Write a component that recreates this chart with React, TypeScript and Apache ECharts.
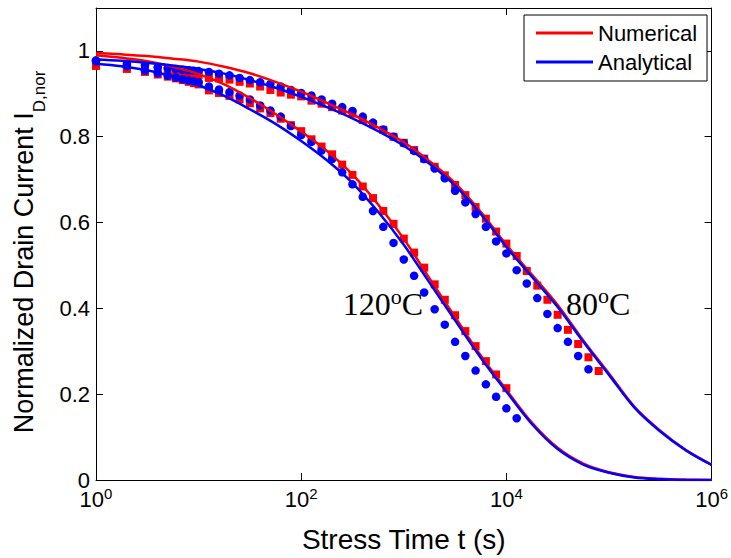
import React, { useEffect, useRef } from "react";
import * as echarts from "echarts";

// ---- sample times (s) ----
const lineTimes = [1, 1.78, 3.16, 5.62, 10, 17.8, 31.6, 56.2, 100, 178, 316, 562, 1000, 1780, 3160, 5620, 10000, 17800, 31600, 56200, 100000, 178000, 316000, 562000, 1000000];
const dataTimes = [1, 2, 3, 4, 5, 6, 7, 8, 9, 10, 12.6, 15.8, 20, 25.1, 31.6, 39.8, 50.1, 63.1, 79.4, 100, 126, 158, 200, 251, 316, 398, 501, 631, 794, 1000, 1260, 1580, 2000, 2510, 3160, 3980, 5010, 6310, 7940, 10000, 12600, 15800, 20000, 25100, 31600, 39800, 50100, 63100, 79400];

// ---- model curves ----
const numerical80 = [0.995, 0.992, 0.988, 0.982, 0.975, 0.963, 0.948, 0.928, 0.905, 0.879, 0.852, 0.821, 0.787, 0.743, 0.692, 0.625, 0.548, 0.478, 0.408, 0.325, 0.248, 0.17, 0.115, 0.07, 0.036];
const analytical80 = [0.98, 0.977, 0.972, 0.966, 0.958, 0.947, 0.932, 0.914, 0.893, 0.869, 0.843, 0.813, 0.779, 0.737, 0.686, 0.62, 0.543, 0.473, 0.403, 0.322, 0.245, 0.168, 0.113, 0.069, 0.035];
const numerical120 = [0.99, 0.984, 0.976, 0.963, 0.946, 0.922, 0.89, 0.853, 0.812, 0.767, 0.712, 0.642, 0.562, 0.47, 0.38, 0.29, 0.21, 0.133, 0.075, 0.038, 0.018, 0.007, 0.003, 0.001, 0.0];
const analytical120 = [0.97, 0.964, 0.955, 0.94, 0.92, 0.895, 0.864, 0.83, 0.79, 0.745, 0.692, 0.625, 0.548, 0.46, 0.372, 0.285, 0.206, 0.13, 0.072, 0.036, 0.017, 0.006, 0.002, 0.0, 0.0];

// ---- marker data ----
const squares80 = [0.97, 0.963, 0.958, 0.955, 0.953, 0.951, 0.949, 0.947, 0.945, 0.943,
  0.937, 0.936, 0.933, 0.928, 0.924, 0.917, 0.909, 0.903, 0.898, 0.894,
  0.884, 0.877, 0.869, 0.861, 0.854, 0.839, 0.829, 0.816, 0.8, 0.786,
  0.769, 0.749, 0.73, 0.71, 0.6875, 0.664, 0.636, 0.609, 0.579, 0.551,
  0.522, 0.487, 0.453, 0.42, 0.385, 0.35, 0.317, 0.286, 0.254];
const circles80 = [0.978, 0.97, 0.966, 0.962, 0.96, 0.958, 0.956, 0.955, 0.954, 0.953,
  0.951, 0.947, 0.943, 0.937, 0.932, 0.927, 0.923, 0.917, 0.909, 0.902,
  0.896, 0.887, 0.877, 0.869, 0.86, 0.847, 0.833, 0.817, 0.8, 0.785,
  0.767, 0.748, 0.726, 0.703, 0.674, 0.647, 0.62, 0.59, 0.556, 0.528,
  0.489, 0.458, 0.424, 0.387, 0.354, 0.322, 0.289, 0.258];
const squares120 = [0.965, 0.958, 0.951, 0.945, 0.94, 0.936, 0.932, 0.928, 0.925, 0.922,
  0.908, 0.902, 0.895, 0.887, 0.878, 0.866, 0.855, 0.842, 0.827, 0.813,
  0.794, 0.777, 0.759, 0.735, 0.711, 0.684, 0.657, 0.627, 0.597, 0.5625,
  0.53, 0.495, 0.456, 0.42, 0.384, 0.347, 0.312, 0.277, 0.246, 0.214];
const circles120 = [0.976, 0.9645, 0.954, 0.948, 0.942, 0.938, 0.934, 0.931, 0.929, 0.927,
  0.917, 0.91, 0.904, 0.896, 0.887, 0.873, 0.861, 0.847, 0.825, 0.804,
  0.788, 0.768, 0.748, 0.717, 0.689, 0.66, 0.627, 0.59, 0.5525, 0.514,
  0.476, 0.437, 0.398, 0.362, 0.322, 0.289, 0.255, 0.223, 0.194, 0.167, 0.144];

const yTicks = { min: 0, max: 1.1, interval: 0.2 };
const xTicks = { min: 1, max: 1000000, interval: 2 };

const RED = "#ff0000";
const BLUE = "#0000ff";
const SANS = "'Liberation Sans', Arial, Helvetica, sans-serif";
const SERIF = "'Liberation Serif', 'Times New Roman', serif";

const pairs = (ts: number[], vs: number[]) => vs.map((v, i) => [ts[i], v]);

export default function App() {
  const ref = useRef<HTMLDivElement>(null);
  useEffect(() => {
    if (!ref.current) return;
    const chart = echarts.init(ref.current, undefined, { renderer: "svg" });
    const axisLine = { show: true, onZero: false, lineStyle: { color: "#000", width: 1 } };
    const tick = { show: true, inside: true, length: 7, lineStyle: { color: "#000", width: 1 } };
    const lineSeries = (name: string, vals: number[], color: string) => ({
      name, type: "line", data: pairs(lineTimes, vals), showSymbol: false, symbol: "none",
      smooth: 0.35, lineStyle: { color, width: 2.5 }, itemStyle: { color },
    });
    const markerSeries = (name: string, vals: number[], color: string, symbol: string, size: number) => ({
      name, type: "scatter", data: pairs(dataTimes, vals), symbol, symbolSize: size,
      itemStyle: { color, opacity: 1 },
    });
    const degreeText = (txt: string) => `{n|${txt}}{s|o}{n|C}`;
    const degreeRich = {
      n: { fontSize: 32, fontFamily: SERIF, lineHeight: 32, verticalAlign: "bottom", fill: "#000" },
      s: { fontSize: 22, fontFamily: SERIF, lineHeight: 22, verticalAlign: "bottom", padding: [0, 0, 13, 0], fill: "#000" },
    };
    chart.setOption({
      animation: false,
      backgroundColor: "#ffffff",
      grid: { left: 96, right: 15.5, top: 8, bottom: 75, containLabel: false },
      legend: {
        data: [{ name: "Numerical", icon: "rect" }, { name: "Analytical", icon: "rect" }],
        orient: "vertical", left: 524, top: 15, itemWidth: 57, itemHeight: 3, itemGap: 7,
        padding: [7, 10, 8, 12], borderColor: "#000", borderWidth: 1, backgroundColor: "#fff",
        textStyle: { fontSize: 22, fontFamily: SANS, color: "#000" },
      },
      xAxis: [
        {
          type: "log", logBase: 10, ...xTicks, position: "bottom", axisLine, axisTick: tick,
          minorTick: { show: false }, splitLine: { show: false },
          axisLabel: {
            margin: 8, color: "#000",
            formatter: (v: number) => `{b|10}{e|${Math.round(Math.log10(v))}}`,
            rich: {
              b: { fontSize: 22, fontFamily: SANS, lineHeight: 22, verticalAlign: "bottom", color: "#000" },
              e: { fontSize: 15, fontFamily: SANS, lineHeight: 15, verticalAlign: "bottom", padding: [0, 0, 9, 0], color: "#000" },
            },
          },
          name: "Stress Time t (s)", nameLocation: "middle", nameGap: 45,
          nameTextStyle: { fontSize: 28, fontFamily: SANS, color: "#000" },
        },
        {
          type: "log", logBase: 10, ...xTicks, position: "top", axisLine, axisTick: tick,
          minorTick: { show: false }, splitLine: { show: false }, axisLabel: { show: false },
        },
      ],
      yAxis: [
        {
          type: "value", ...yTicks, position: "left", axisLine, axisTick: tick, splitLine: { show: false },
          axisLabel: {
            margin: 6, fontSize: 22, lineHeight: 16, fontFamily: SANS, color: "#000",
            formatter: (v: number) => (v > 1.05 ? "" : String(v)),
          },
          name: "{m|Normalized Drain Current I}{s|D,nor}", nameLocation: "middle", nameGap: 48,
          nameTextStyle: {
            color: "#000",
            padding: [0, 16, 0, 0],
            rich: {
              m: { fontSize: 27, fontFamily: SANS, lineHeight: 28, verticalAlign: "bottom", padding: [0, 0, 11, 0], color: "#000" },
              s: { fontSize: 17, fontFamily: SANS, lineHeight: 17, verticalAlign: "bottom", color: "#000" },
            },
          },
        },
        {
          type: "value", ...yTicks, position: "right", axisLine, axisTick: tick,
          splitLine: { show: false }, axisLabel: { show: false },
        },
      ],
      series: [
        lineSeries("Numerical", numerical80, RED),
        lineSeries("Numerical", numerical120, RED),
        lineSeries("Analytical", analytical80, BLUE),
        lineSeries("Analytical", analytical120, BLUE),
        markerSeries("Numerical data 80", squares80, RED, "rect", 8),
        markerSeries("Numerical data 120", squares120, RED, "rect", 8),
        markerSeries("Analytical data 80", circles80, BLUE, "circle", 8.5),
        markerSeries("Analytical data 120", circles120, BLUE, "circle", 8.5),
      ],
      graphic: [
        { type: "text", x: 342.7, y: 288, z: 100, style: { text: degreeText("120"), rich: degreeRich, align: "left", verticalAlign: "top", fill: "#000", fontSize: 32, fontFamily: SERIF } },
        { type: "text", x: 566, y: 287.5, z: 100, style: { text: degreeText("80"), rich: degreeRich, align: "left", verticalAlign: "top", fill: "#000", fontSize: 32, fontFamily: SERIF } },
      ],
    });
    return () => chart.dispose();
  }, []);
  return (
    <div
      ref={ref}
      style={{ position: "fixed", left: 0, top: 0, width: 731, height: 558, background: "#fff" }}
    />
  );
}
